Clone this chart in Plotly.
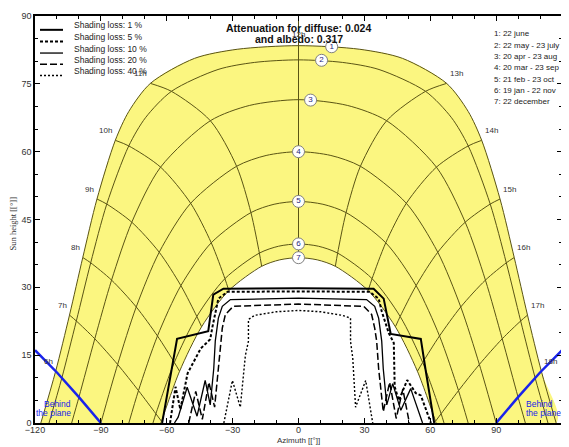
import plotly.graph_objects as go

# ---------------- data: sun paths (azimuth [deg], sun height [deg]) ----------------
d1_az = [-117.34, -110.58, -104.29, -98.24, -91.78, -83.43, -77.27, -67.45, -47.35, -27.92, 0.0,
         27.92, 47.35, 67.45, 77.27, 83.43, 91.78, 98.24, 104.29, 110.58, 117.34]
d1_h = [0.0, 11.47, 23.86, 36.60, 49.53, 62.51, 68.90, 75.10, 80.63, 82.64, 83.44,
        82.64, 80.63, 75.10, 68.90, 62.51, 49.53, 36.60, 23.86, 11.47, 0.0]
d2_az = [-113.62, -107.76, -101.18, -94.64, -87.31, -77.30, -69.70, -57.86, -36.66, -20.11, 0.0,
         20.11, 36.66, 57.86, 69.70, 77.30, 87.31, 94.64, 101.18, 107.76, 113.62]
d2_h = [0.0, 9.99, 22.56, 35.42, 48.41, 61.27, 67.50, 73.34, 78.17, 79.73, 80.30,
        79.73, 78.17, 73.34, 67.50, 61.27, 48.41, 35.42, 22.56, 9.99, 0.0]
d3_az = [-103.31, -99.99, -92.77, -85.13, -75.92, -62.81, -40.15, -22.22, 0.0,
         22.22, 40.15, 62.81, 75.92, 85.13, 92.77, 99.99, 103.31]
d3_h = [0.0, 5.72, 18.62, 31.60, 44.40, 56.58, 66.84, 70.23, 71.50,
        70.23, 66.84, 56.58, 44.40, 31.60, 18.62, 5.72, 0.0]
d4_az = [-90.0, -82.37, -73.90, -63.43, -49.11, -28.19, -14.75, 0.0,
         14.75, 28.19, 49.11, 63.43, 73.90, 82.37, 90.0]
d4_h = [0.0, 12.95, 25.66, 37.76, 48.59, 56.77, 59.16, 60.0,
        59.16, 56.77, 48.59, 37.76, 25.66, 12.95, 0.0]
d5_az = [-77.27, -72.87, -64.22, -53.57, -39.74, -21.67, -11.12, 0.0,
         11.12, 21.67, 39.74, 53.57, 64.22, 72.87, 77.27]
d5_h = [0.0, 7.16, 19.25, 30.38, 39.85, 46.53, 48.37, 49.0,
        48.37, 46.53, 39.85, 30.38, 19.25, 7.16, 0.0]
d6_az = [-66.27, -64.95, -56.55, -46.30, -33.51, -17.82, -9.07, 0.0,
         9.07, 17.82, 33.51, 46.30, 56.55, 64.95, 66.27]
d6_h = [0.0, 2.05, 13.39, 23.56, 31.92, 37.57, 39.09, 39.6,
        39.09, 37.57, 31.92, 23.56, 13.39, 2.05, 0.0]
d7_az = [-62.66, -62.40, -54.16, -44.13, -31.73, -16.78, -8.52, 0.0,
         8.52, 16.78, 31.73, 44.13, 54.16, 62.40, 62.66]
d7_h = [0.0, 0.39, 11.44, 21.28, 29.29, 34.65, 36.08, 36.56,
        36.08, 34.65, 29.29, 21.28, 11.44, 0.39, 0.0]

date_legend = ["1: 22 june", "2: 22 may - 23 july", "3: 20 apr - 23 aug", "4: 20 mar - 23 sep",
               "5: 21 feb - 23 oct", "6: 19 jan - 22 nov", "7: 22 december"]
date_label_text = ["1", "2", "3", "4", "5", "6", "7"]
date_label_az = [15.1, 10.5, 5.5, 0.0, 0.0, 0.0, 0.0]
date_label_h = [83.2, 80.2, 71.4, 60.0, 49.0, 39.6, 36.56]

# hour lines (from 22 june to 22 december)
h06_az = [-110.58, -107.76, -99.99, -90.0]; h06_h = [11.47, 9.99, 5.72, 0.0]
h07_az = [-104.29, -101.18, -92.77, -82.37, -72.87, -64.95, -62.40]; h07_h = [23.86, 22.56, 18.62, 12.95, 7.16, 2.05, 0.39]
h08_az = [-98.24, -94.64, -85.13, -73.90, -64.22, -56.55, -54.16]; h08_h = [36.60, 35.42, 31.60, 25.66, 19.25, 13.39, 11.44]
h09_az = [-91.78, -87.31, -75.92, -63.43, -53.57, -46.30, -44.13]; h09_h = [49.53, 48.41, 44.40, 37.76, 30.38, 23.56, 21.28]
h10_az = [-83.43, -77.30, -62.81, -49.11, -39.74, -33.51, -31.73]; h10_h = [62.51, 61.27, 56.58, 48.59, 39.85, 31.92, 29.29]
h11_az = [-67.45, -57.86, -40.15, -28.19, -21.67, -17.82, -16.78]; h11_h = [75.10, 73.34, 66.84, 56.77, 46.53, 37.57, 34.65]
h12_az = [0.0, 0.0]; h12_h = [90.0, 36.56]
h13_az = [67.45, 57.86, 40.15, 28.19, 21.67, 17.82, 16.78]; h13_h = [75.10, 73.34, 66.84, 56.77, 46.53, 37.57, 34.65]
h14_az = [83.43, 77.30, 62.81, 49.11, 39.74, 33.51, 31.73]; h14_h = [62.51, 61.27, 56.58, 48.59, 39.85, 31.92, 29.29]
h15_az = [91.78, 87.31, 75.92, 63.43, 53.57, 46.30, 44.13]; h15_h = [49.53, 48.41, 44.40, 37.76, 30.38, 23.56, 21.28]
h16_az = [98.24, 94.64, 85.13, 73.90, 64.22, 56.55, 54.16]; h16_h = [36.60, 35.42, 31.60, 25.66, 19.25, 13.39, 11.44]
h17_az = [104.29, 101.18, 92.77, 82.37, 72.87, 64.95, 62.40]; h17_h = [23.86, 22.56, 18.62, 12.95, 7.16, 2.05, 0.39]
h18_az = [110.58, 107.76, 99.99, 90.0]; h18_h = [11.47, 9.99, 5.72, 0.0]

hour_labels = ["6h", "7h", "8h", "9h", "10h", "11h", "12h", "13h", "14h", "15h", "16h", "17h", "18h"]
hour_label_az = [-110.58, -104.29, -98.24, -91.78, -83.43, -67.45, 0.0, 67.45, 83.43, 91.78, 98.24, 104.29, 110.58]
hour_label_h = [11.47, 23.86, 36.60, 49.53, 62.51, 75.10, 83.44, 75.10, 62.51, 49.53, 36.60, 23.86, 11.47]

# plane horizon ("behind the plane")
plane_l_az = [-120.0, -110.0, -100.0, -90.0]; plane_l_h = [16.10, 11.17, 5.72, 0.0]
plane_r_az = [90.0, 100.0, 110.0, 120.0]; plane_r_h = [0.0, 5.72, 11.17, 16.10]

# iso-shading loss curves
shading_names = ["Shading loss: 1 %", "Shading loss: 5 %", "Shading loss: 10 %",
                 "Shading loss: 20 %", "Shading loss: 40 %"]
s01_az = [-62.1, -57.5, -55.3, -41.1, -38.8, -34.2, 0.0, 34.2, 38.8, 42.0, 55.7, 57.8, 61.8]
s01_h = [0.0, 12.0, 18.6, 20.3, 28.4, 29.7, 29.8, 29.7, 27.5, 19.7, 18.6, 12.0, 0.0]
s05_az = [-58.5, -56.0, -53.8, -50.5, -44.5, -40.2, -39.3, -37.9, -36.5, -32.4, 0.0, 32.4, 36.5,
          37.9, 41.1, 43.4, 43.8, 45.7, 49.5, 53.4, 55.7, 60.3]
s05_h = [0.0, 8.0, 3.0, 11.0, 16.5, 18.5, 21.0, 24.7, 27.5, 29.0, 29.1, 29.0, 27.5,
         24.7, 19.9, 17.7, 8.0, 5.0, 9.5, 6.6, 6.1, 0.0]
s10_az = [-56.5, -54.8, -50.7, -46.2, -42.5, -40.2, -38.6, -37.9, -36.5, -34.7, -31.0, 0.0, 31.0,
          34.7, 36.5, 37.9, 38.6, 40.2, 42.9, 46.6, 51.1, 55.7, 56.5]
s10_h = [0.0, 1.3, 7.9, 1.5, 9.4, 4.0, 12.0, 18.1, 23.2, 25.8, 27.3, 27.6, 27.3,
         25.8, 23.2, 18.1, 12.0, 4.0, 8.7, 2.8, 7.6, 1.3, 0.0]
s20_az = [-50.0, -46.8, -43.8, -40.8, -38.2, -36.5, -35.6, -34.7, -33.3, -29.7, 0.0, 29.7, 33.3,
          34.7, 35.6, 36.5, 38.6, 41.5, 44.5, 47.5, 50.5]
s20_h = [0.0, 7.0, 0.8, 9.0, 3.5, 12.0, 18.1, 21.0, 24.0, 25.8, 26.3, 25.8, 24.0,
         21.0, 18.1, 12.0, 2.5, 9.0, 1.0, 7.5, 0.0]
s40_az = [-34.0, -30.1, -26.5, -24.2, -22.8, -22.8, -20.0, -10.0, 0.0, 10.0, 20.0, 23.7, 23.7,
          24.7, 26.0, 30.6, 33.8]
s40_h = [0.0, 9.4, 3.5, 14.9, 18.1, 22.9, 23.8, 24.6, 24.9, 24.6, 23.8, 23.2, 18.0,
         14.4, 3.5, 9.4, 0.0]

# ---------------- styles / layout ----------------
FONT = "Liberation Sans, Arial, sans-serif"
GRID = "rgb(90,84,20)"
YELLOW = "rgb(251,246,128)"
BLUE = "rgb(25,35,235)"
OFF = 8  # default page body margin of the browser
W, H = 569 - OFF, 447 - OFF
# plot area in page pixels: x 35..562, y 11..423
PX0, PX1, PY0, PY1 = 35, 562, 11, 423
L, T = PX0 - OFF, PY0 - OFF
R, B = W + OFF - PX1, H + OFF - PY1
PW, PH = PX1 - PX0, PY1 - PY0


def pxx(p):
    return (p - PX0) / PW


def pxy(p):
    return (PY1 - p) / PH


fig = go.Figure()

# yellow sky region between 22 june and 22 december paths
fig.add_trace(go.Scatter(x=d1_az + d7_az[::-1], y=d1_h + d7_h[::-1], mode="lines",
                         fill="toself", fillcolor=YELLOW, line=dict(width=0, shape="spline"),
                         hoverinfo="skip"))

for ax_, ay_ in [(d1_az, d1_h), (d2_az, d2_h), (d3_az, d3_h), (d4_az, d4_h),
                 (d5_az, d5_h), (d6_az, d6_h), (d7_az, d7_h)]:
    fig.add_trace(go.Scatter(x=ax_, y=ay_, mode="lines",
                             line=dict(color=GRID, width=1, shape="spline", smoothing=0.8)))

for ax_, ay_ in [(h06_az, h06_h), (h07_az, h07_h), (h08_az, h08_h), (h09_az, h09_h),
                 (h10_az, h10_h), (h11_az, h11_h), (h12_az, h12_h), (h13_az, h13_h),
                 (h14_az, h14_h), (h15_az, h15_h), (h16_az, h16_h), (h17_az, h17_h),
                 (h18_az, h18_h)]:
    fig.add_trace(go.Scatter(x=ax_, y=ay_, mode="lines",
                             line=dict(color=GRID, width=1, shape="spline", smoothing=0.8)))

# plane horizon
for ax_, ay_ in [(plane_l_az, plane_l_h), (plane_r_az, plane_r_h)]:
    fig.add_trace(go.Scatter(x=ax_, y=ay_, mode="lines", line=dict(color=BLUE, width=2.5)))

# shading curves
shading_styles = [dict(color="black", width=2, dash="solid"),
                  dict(color="black", width=2, dash="3px,2px"),
                  dict(color="black", width=1.3, dash="solid"),
                  dict(color="black", width=1.5, dash="7px,3px"),
                  dict(color="black", width=1.4, dash="2px,2px")]
for (ax_, ay_), st in zip([(s01_az, s01_h), (s05_az, s05_h), (s10_az, s10_h),
                           (s20_az, s20_h), (s40_az, s40_h)], shading_styles):
    fig.add_trace(go.Scatter(x=ax_, y=ay_, mode="lines", line=st))

# date labels (circled numbers)
fig.add_trace(go.Scatter(x=date_label_az, y=date_label_h, mode="markers+text", text=date_label_text,
                         textposition="middle center",
                         marker=dict(symbol="circle", size=12, color="white",
                                     line=dict(color="#808080", width=1)),
                         textfont=dict(family=FONT, size=8, color="rgb(30,30,120)")))

annotations = []
# hour labels next to the 22 june path
for t, xx, yy in zip(hour_labels, hour_label_az, hour_label_h):
    if xx < 0:
        anc, xs, ys = "right", -1, 3
    elif xx > 0:
        anc, xs, ys = "left", 1, 3
    else:
        anc, xs, ys = "center", 0, 5
    annotations.append(dict(x=xx, y=yy, xref="x", yref="y", text=t, showarrow=False,
                            xanchor=anc, yanchor="bottom", xshift=xs, yshift=ys,
                            font=dict(family=FONT, size=8, color="#333")))
# title
annotations.append(dict(x=0, xref="x", y=pxy(23.3), yref="paper", text="<b>Attenuation for diffuse: 0.024</b>",
                        showarrow=False, font=dict(family=FONT, size=10.5, color="#111"),
                        xanchor="center", yanchor="middle"))
annotations.append(dict(x=0, xref="x", y=pxy(34.5), yref="paper", text="<b>and albedo: 0.317</b>",
                        showarrow=False, font=dict(family=FONT, size=10.5, color="#111"),
                        xanchor="center", yanchor="middle"))
# date legend
for i, t in enumerate(date_legend):
    annotations.append(dict(x=pxx(492), xref="paper", y=pxy(29 + 11.5 * i), yref="paper", text=t,
                            showarrow=False, font=dict(family=FONT, size=8, color="#222"),
                            xanchor="left", yanchor="middle"))
# shading legend
shapes = []
text_y = [20.5, 32.3, 44.0, 55.3, 66.8]
for i, t in enumerate(shading_names):
    annotations.append(dict(x=pxx(72), xref="paper", y=pxy(text_y[i]), yref="paper", text=t,
                            showarrow=False, font=dict(family=FONT, size=8.5, color="#222"),
                            xanchor="left", yanchor="middle"))
    st = shading_styles[i]
    shapes.append(dict(type="line", xref="paper", yref="paper", x0=pxx(40), x1=pxx(63),
                       y0=pxy(text_y[i] + 4.5), y1=pxy(text_y[i] + 4.5),
                       line=dict(color=st["color"], width=st["width"], dash=st["dash"])))
# behind the plane
for xx, yy, t in [(-109.6, 4.3, "Behind"), (-111.4, 2.3, "the plane"),
                  (109.6, 4.3, "Behind"), (111.4, 2.3, "the plane")]:
    annotations.append(dict(x=xx, y=yy, xref="x", yref="y", text=t, showarrow=False,
                            font=dict(family=FONT, size=8.5, color=BLUE),
                            xanchor="center", yanchor="middle"))
# axis titles
annotations.append(dict(x=0, xref="x", y=pxy(440.5), yref="paper", text="Azimuth [[°]]", showarrow=False,
                        font=dict(family=FONT, size=8, color="#333"), xanchor="center", yanchor="middle"))
annotations.append(dict(x=pxx(13), xref="paper", y=pxy(221), yref="paper", text="Sun height [[°]]",
                        showarrow=False, textangle=-90,
                        font=dict(family="Liberation Serif, Times New Roman, serif", size=8.5, color="#333"),
                        xanchor="center", yanchor="middle"))

axis_common = dict(showgrid=False, zeroline=False, showline=True, linecolor="black", linewidth=1.5,
                   mirror="ticks", ticks="inside", ticklen=5, tickwidth=1, tickcolor="black",
                   tickfont=dict(family=FONT, size=9, color="#333"),
                   minor=dict(ticks="inside", ticklen=3, tickwidth=1, tickcolor="black"))

fig.update_layout(
    width=W, height=H, margin=dict(l=L, r=R, t=T, b=B),
    paper_bgcolor="white", plot_bgcolor="white", showlegend=False,
    font=dict(family=FONT, size=9, color="#333"),
    xaxis=dict(range=[-120, 120], tickvals=[-120, -90, -60, -30, 0, 30, 60, 90, 120],
               ticklabelstandoff=-3, **axis_common),
    yaxis=dict(range=[0, 90], tickvals=[0, 15, 30, 45, 60, 75, 90], **axis_common),
    annotations=annotations, shapes=shapes,
)
fig.update_xaxes(minor_dtick=10)
fig.update_yaxes(minor_dtick=5)

fig.write_html("out.html")
